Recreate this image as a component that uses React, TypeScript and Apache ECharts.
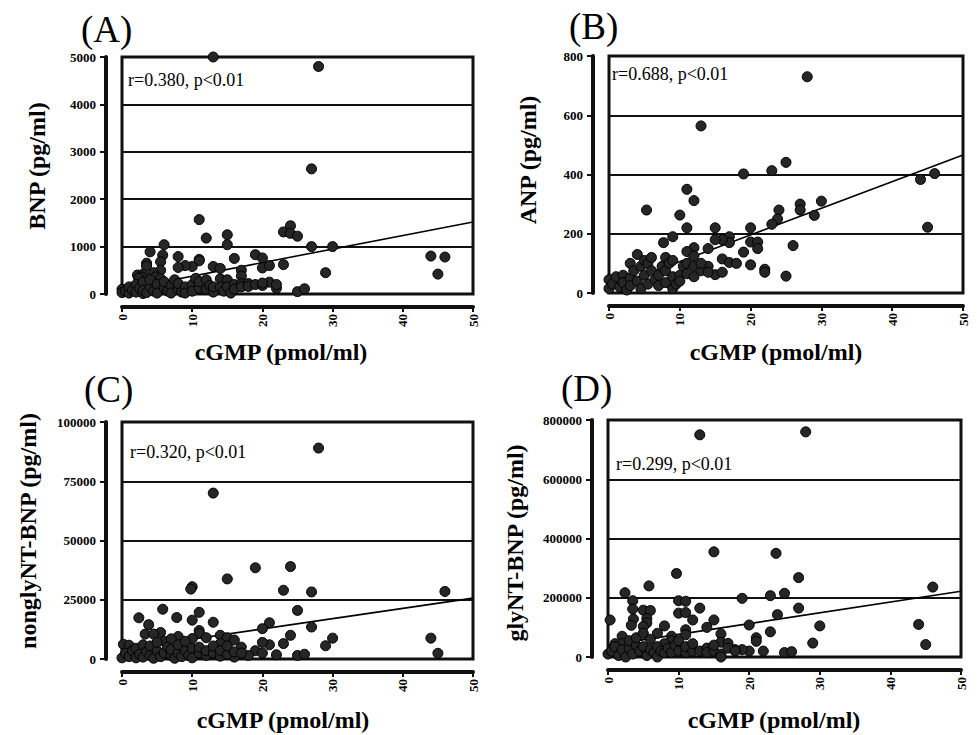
import React, { useEffect, useRef } from "react";
import * as echarts from "echarts";

// ---- Data (x = cGMP pmol/ml) ----
const xTicks = [0, 10, 20, 30, 40, 50];

const bnpPoints: number[][] = [
  [13, 5000], [28, 4800], [27, 2640], [11, 1570], [12, 1180], [15, 1250], [15, 1040], [23, 1310], [24, 1440], [24, 1280],
  [25, 1220], [27, 1000], [30, 1000], [44, 800], [46, 780], [45, 420], [29, 450], [23, 620], [25, 50], [26, 110],
  [19, 830], [20, 760], [20, 550], [21, 600], [21, 250], [22, 120], [22, 200], [16, 750], [17, 500], [17, 380],
  [11, 730], [11, 700], [13, 580], [14, 540], [10, 580], [9, 600], [8, 790], [8, 560], [6, 1040], [5.8, 820],
  [5.5, 680], [4, 890], [3.5, 650], [3.5, 590], [2.2, 400], [5.5, 500], [3, 420], [4.5, 450], [2.8, 360], [2.4, 330],
  [4.8, 360], [5.5, 320],
  [0, 100], [0, 30], [0.5, 60], [1, 20], [1, 150], [1.5, 80], [2, 200], [2, 40], [2.5, 120], [3, 10],
  [3, 250], [3, 80], [3.5, 30], [4, 150], [4, 300], [4.5, 60], [5, 200], [5, 20], [6, 130], [6, 260],
  [6.5, 60], [7, 180], [7, 20], [7.5, 300], [8, 100], [8, 220], [8.5, 40], [9, 150], [9, 20], [10, 200],
  [10, 60], [10.5, 330], [11, 120], [11, 260], [12, 100], [12, 300], [12.5, 180], [13, 40], [13, 150], [14, 320],
  [14, 150], [14.5, 60], [15, 300], [15, 150], [15.5, 20], [16, 200], [16, 100], [17, 220], [17, 150], [18, 220],
  [18, 160], [19, 200], [20, 180], [20, 230],
];

const anpPoints: number[][] = [
  [28, 730], [13, 564], [19, 402], [23, 413], [25, 441], [11, 350], [12, 312], [5.3, 280], [10, 263], [9, 190],
  [7.7, 170], [11, 220], [15, 220], [20, 220], [27, 300], [27, 280], [30, 310], [29, 262], [24, 280], [23.8, 250],
  [23, 232], [44, 383], [46, 403], [45, 222], [25, 57], [26, 160], [22, 80], [22, 70], [20, 95], [19, 138],
  [20, 172], [21, 172], [21, 150], [17, 190], [17, 170], [16, 180], [15, 180], [16, 115], [17, 103], [18, 100],
  [14, 150], [12, 153], [11, 140], [12, 125], [14, 90], [15, 62], [16, 70],
  [0, 45], [0, 15], [0.5, 30], [1, 55], [1.5, 20], [2, 60], [2, 35], [2.5, 10], [3, 100], [3, 50],
  [3, 25], [3.5, 75], [4, 130], [4, 40], [4.5, 90], [4.5, 15], [5, 110], [5, 60], [5.5, 100], [5.5, 30],
  [6, 120], [6, 75], [6.5, 45], [7, 60], [7, 25], [7.5, 90], [8, 120], [8, 75], [8, 35], [8.5, 100],
  [9, 110], [9, 55], [9, 15], [9.5, 30], [10, 60], [10, 40], [10.5, 90], [11, 100], [11, 65], [12, 90],
  [12, 55], [13, 75], [13, 100], [14, 70],
];

const nonglyPoints: number[][] = [
  [28, 89000], [13, 70000], [19, 38500], [24, 39000], [15, 33800], [10, 30500], [9.8, 29500], [23, 29000], [27, 28300], [46, 28500],
  [25, 20500], [21, 15300], [20, 12800], [27, 13500], [24, 10000], [23, 6500], [30, 8800], [29, 5600], [44, 8800], [45, 2400],
  [25, 1500], [26, 2000], [22, 1800], [19, 3500], [20, 2500], [21, 6000], [20, 7000], [18, 1500], [17, 5000], [16, 800],
  [5.8, 21000], [2.4, 17400], [7.8, 17500], [10, 16400], [11, 19700], [13, 15500], [3.8, 14500], [3.3, 10500], [11, 12000], [11, 10800],
  [12, 9000], [8, 9500], [10, 8600], [14, 10000], [15, 9000], [16, 8000], [14, 6500], [0.2, 6200], [1, 5800], [5.5, 11200],
  [4.5, 10500], [6, 7500], [7, 8500],
  [0, 500], [0.5, 2500], [1, 1000], [1.5, 3500], [2, 500], [2, 4500], [2.5, 2000], [3, 6000], [3, 800], [3.5, 3000],
  [4, 1500], [4, 5500], [4.5, 300], [5, 3500], [5, 7000], [5.5, 1000], [6, 2500], [6.5, 5000], [7, 1500], [7, 4000],
  [7.5, 300], [8, 2500], [8, 6000], [8.5, 1000], [9, 3500], [9, 7500], [9.5, 1500], [10, 4500], [10, 500], [11, 2500],
  [11, 5000], [12, 1500], [12, 3500], [13, 2500], [13, 5500], [14, 1200], [14, 3500], [15, 2000], [15, 5500], [16, 3000],
  [17, 2500],
];

const glyPoints: number[][] = [
  [13, 750000], [28, 760000], [15, 355000], [23.8, 350000], [9.7, 282000], [27, 268000], [46, 236000], [5.8, 240000], [2.4, 217000], [25, 215000],
  [23, 207000], [19, 198000], [3.5, 190000], [10, 190000], [11, 188000], [27, 165000], [24, 143000], [13, 165000], [10, 148000], [11, 150000],
  [12, 125000], [5, 158000], [6, 157000], [3.5, 162000], [3.6, 128000], [5.5, 130000], [5.5, 115000], [0.3, 125000], [3.3, 107000], [5, 103000],
  [8, 105000], [14, 100000], [15, 125000], [20, 108000], [30, 105000], [44, 110000], [45, 42000], [23, 85000], [21, 65000], [21, 53000],
  [29, 47000], [11, 92000], [11, 75000], [16, 78000], [16, 50000], [17, 46000], [25, 15000], [26, 18000], [22, 20000], [20, 20000],
  [19, 25000], [18, 25000], [7, 80000], [9, 70000], [9, 55000], [8, 45000], [2, 70000], [1, 45000], [2, 45000],
  [0, 10000], [0.5, 20000], [1, 35000], [1.5, 5000], [2, 25000], [2.5, 0], [3, 30000], [3, 55000], [3.5, 10000], [4, 40000],
  [4, 65000], [4.5, 20000], [5, 35000], [5, 80000], [5.5, 5000], [6, 25000], [6, 60000], [6.5, 15000], [7, 35000], [7, 0],
  [7.5, 20000], [8, 15000], [8.5, 30000], [9, 15000], [9.5, 40000], [10, 20000], [10, 55000], [11, 15000], [11, 35000], [12, 20000],
  [12, 45000], [13, 20000], [14, 30000], [14, 15000], [15, 20000], [15, 40000], [16, 10000], [16, 0], [17, 30000], [18, 20000],
];

// regression line end points (x = 0 and x = 50)
const bnpFit = [[0, 90], [50, 1520]];
const anpFit = [[0, 16], [50, 466]];
const nonglyFit = [[0, 4000], [50, 25700]];
const glyFit = [[0, 40000], [50, 222000]];

// y tick values for each panel
const bnpTicks = [0, 1000, 2000, 3000, 4000, 5000];
const anpTicks = [0, 200, 400, 600, 800];
const nonglyTicks = [0, 25000, 50000, 75000, 100000];
const glyTicks = [0, 200000, 400000, 600000, 800000];

const panelLetters = ["(A)", "(B)", "(C)", "(D)"];
const stats = ["r=0.380, p<0.01", "r=0.688, p<0.01", "r=0.320, p<0.01", "r=0.299, p<0.01"];
const yNames = ["BNP (pg/ml)", "ANP (pg/ml)", "nonglyNT-BNP (pg/ml)", "glyNT-BNP (pg/ml)"];
const xName = "cGMP (pmol/ml)";

export default function App() {
  const ref = useRef<HTMLDivElement>(null);
  useEffect(() => {
    if (!ref.current) return;
    const chart = echarts.init(ref.current, null, { renderer: "svg" });
    const serif = "Liberation Serif";
    const ink = "#111";
    const boxes = [
      { left: 122, top: 57, width: 351, height: 237 },
      { left: 609, top: 56, width: 354, height: 237 },
      { left: 122, top: 422, width: 351, height: 237 },
      { left: 608, top: 420, width: 353, height: 237 },
    ];
    const pointsAll = [bnpPoints, anpPoints, nonglyPoints, glyPoints];
    const fits = [bnpFit, anpFit, nonglyFit, glyFit];
    const yTicksAll = [bnpTicks, anpTicks, nonglyTicks, glyTicks];
    const yOff = 16;
    const xOff = 13;

    const grids: any[] = [];
    const xAxes: any[] = [];
    const yAxes: any[] = [];
    const series: any[] = [];

    boxes.forEach((b, i) => {
      const yT = yTicksAll[i];
      const yMax = yT[yT.length - 1];
      const yInt = yT[1] - yT[0];

      const gMain = grids.length;
      grids.push({ ...b, show: true, borderColor: ink, borderWidth: 3 });
      xAxes.push({
        type: "value", gridIndex: gMain, min: 0, max: 50, interval: 10, offset: xOff,
        axisLine: { show: true, onZero: false, lineStyle: { color: ink, width: 4 } },
        axisTick: { show: true, length: 5, lineStyle: { color: ink, width: 2 } },
        axisLabel: { color: "#000", fontFamily: serif, fontWeight: "bold", fontSize: 13, rotate: 90, margin: 7 },
        splitLine: { show: false },
      });
      yAxes.push({
        type: "value", gridIndex: gMain, min: 0, max: yMax, interval: yInt, offset: yOff,
        axisLine: { show: true, onZero: false, lineStyle: { color: ink, width: 4 } },
        axisTick: { show: true, length: 6, lineStyle: { color: ink, width: 2 } },
        axisLabel: {
          color: "#000", fontFamily: serif, fontWeight: "bold", fontSize: 13, margin: 10,
          formatter: (v: number) => String(v),
        },
        splitLine: { show: true, lineStyle: { color: ink, width: 2 } },
      });

      const gY = grids.length;
      grids.push({ left: b.left - yOff, top: b.top, width: b.width, height: b.height, show: false });
      xAxes.push({ type: "value", gridIndex: gY, min: 0, max: 50, show: false });
      yAxes.push({ type: "value", gridIndex: gY, min: 0, max: yMax, show: false });
      series.push({
        type: "line", xAxisIndex: gY, yAxisIndex: gY, data: [[0, 0], [0, yMax]],
        symbol: "none", clip: false, silent: true, lineStyle: { color: ink, width: 4 }, z: 5,
      });

      const gX = grids.length;
      grids.push({ left: b.left, top: b.top + xOff, width: b.width, height: b.height, show: false });
      xAxes.push({ type: "value", gridIndex: gX, min: 0, max: 50, show: false });
      yAxes.push({ type: "value", gridIndex: gX, min: 0, max: yMax, show: false });
      series.push({
        type: "line", xAxisIndex: gX, yAxisIndex: gX, data: [[xTicks[0], 0], [xTicks[xTicks.length - 1], 0]],
        symbol: "none", clip: false, silent: true, lineStyle: { color: ink, width: 4 }, z: 5,
      });

      series.push({
        type: "line", xAxisIndex: gMain, yAxisIndex: gMain, data: fits[i],
        symbol: "none", silent: true, lineStyle: { color: "#000", width: 1.6 }, z: 3,
      });
      series.push({
        type: "scatter", xAxisIndex: gMain, yAxisIndex: gMain, data: pointsAll[i],
        symbol: "circle", symbolSize: 10, clip: false,
        itemStyle: { color: "#262626", borderColor: "#000", borderWidth: 1, opacity: 1 }, z: 4,
      });
    });

    const letterPos = [[81, 29], [569, 26], [84, 389], [561, 388]];
    const statPos = [[128, 80], [612, 74], [130, 452], [616, 464]];
    const yNamePos = [[37, 166], [528, 160], [28, 531], [515, 543]];
    const xNamePos = [[281, 352], [776, 352], [283, 720], [774, 720]];
    const graphic: any[] = [];
    for (let i = 0; i < 4; i++) {
      graphic.push({
        type: "text", x: letterPos[i][0], y: letterPos[i][1],
        style: { text: panelLetters[i], fill: "#000", font: `37px ${serif}`, textAlign: "left", textVerticalAlign: "middle" },
      });
      graphic.push({
        type: "text", x: statPos[i][0], y: statPos[i][1], z: 10,
        style: { text: stats[i], fill: "#000", font: `18px ${serif}`, textAlign: "left", textVerticalAlign: "middle" },
      });
      graphic.push({
        type: "text", x: yNamePos[i][0], y: yNamePos[i][1], rotation: Math.PI / 2,
        style: { text: yNames[i], fill: "#000", font: `bold 24px ${serif}`, textAlign: "center", textVerticalAlign: "middle" },
      });
      graphic.push({
        type: "text", x: xNamePos[i][0], y: xNamePos[i][1],
        style: { text: xName, fill: "#000", font: `bold 24px ${serif}`, textAlign: "center", textVerticalAlign: "middle" },
      });
    }

    chart.setOption({
      animation: false,
      backgroundColor: "#fff",
      grid: grids,
      xAxis: xAxes,
      yAxis: yAxes,
      series,
      graphic,
    });
    return () => chart.dispose();
  }, []);
  return <div ref={ref} style={{ position: "absolute", left: 0, top: 0, width: 980, height: 735 }} />;
}
